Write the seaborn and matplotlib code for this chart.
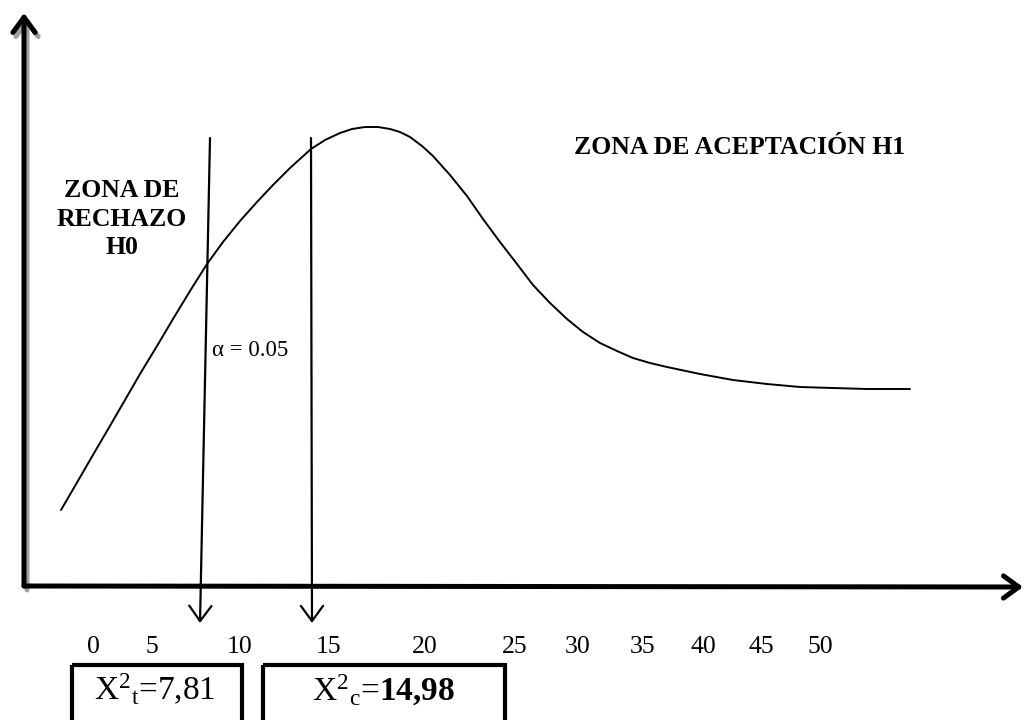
import matplotlib
matplotlib.use("Agg")
import matplotlib.pyplot as plt
import seaborn as sns
from matplotlib.patches import Rectangle, ArrowStyle

# curva dibujada (coordenadas del lienzo)
curva_x = [61, 75, 90, 107, 125, 140, 157, 173, 190, 207, 223, 240, 257, 273,
           290, 311, 325, 340, 352, 365, 378, 390, 400, 410, 422, 433, 450,
           467, 483, 500, 517, 533, 550, 567, 583, 600, 617, 633, 650, 667,
           700, 733, 767, 800, 833, 867, 910]
curva_y = [510, 486, 460, 431, 400, 374, 346, 319, 291, 264, 242, 221, 202, 185,
           168, 149, 140, 133, 129, 127, 127, 129, 132, 137, 146, 156, 175,
           196, 219, 242, 264, 285, 303, 319, 332, 343, 351, 358, 363, 367,
           374, 380, 384, 387, 388, 389, 389]

# etiquetas del eje x
ticks_lbl = ["0", "5", "10", "15", "20", "25", "30", "35", "40", "45", "50"]
ticks_pos = [93, 152, 240, 328, 425, 515, 578, 643, 703, 761, 820]

# valores criticos
chi_tabla = "7,81"
chi_calc = "14{,}98"
alfa = "0.05"

sns.set_theme(style="white")
plt.rcParams["font.family"] = ["Liberation Serif", "DejaVu Serif"]
plt.rcParams["text.color"] = "black"
plt.rcParams["mathtext.fontset"] = "custom"
plt.rcParams["mathtext.rm"] = "Liberation Serif"
plt.rcParams["mathtext.it"] = "Liberation Serif:italic"
plt.rcParams["mathtext.bf"] = "Liberation Serif:bold"

fig = plt.figure(figsize=(10.24, 7.2), dpi=100)
ax = fig.add_axes([0, 0, 1, 1])
ax.set_xlim(0, 1024)
ax.set_ylim(720, 0)
ax.axis("off")


def flecha(x0, y0, x1, y1, lw, color="black"):
    estilo = ArrowStyle("->", head_length=0.55, head_width=0.4)
    ax.annotate("", xy=(x1, y1), xytext=(x0, y0),
                arrowprops=dict(arrowstyle=estilo, lw=lw, color=color,
                                mutation_scale=20, shrinkA=0, shrinkB=0))


# ejes con sombra gris
flecha(27, 590, 1026, 591, 3.6, "#a0a0a0")
flecha(27, 590, 27, 17, 3.6, "#a0a0a0")
flecha(24, 586, 1023, 587, 3.6)
flecha(24, 586, 24, 13, 3.6)

# curva
sns.lineplot(x=curva_x, y=curva_y, sort=False, color="black", lw=1.4, ax=ax)

# lineas de valores criticos
flecha(210, 138, 200, 623, 1.6)
flecha(311, 138, 312, 623, 1.6)

for p, t in zip(ticks_pos, ticks_lbl):
    ax.text(p, 647, t, ha="center", va="center", fontsize=18.5, color="black")

ax.text(122, 219, "ZONA DE\nRECHAZO\nH0", ha="center", va="center",
        fontsize=18.5, fontweight="bold", linespacing=1.3, color="black")
ax.text(740, 147, "ZONA DE ACEPTACIÓN H1", ha="center", va="center",
        fontsize=18.5, fontweight="bold", color="black")
ax.text(212, 350, "α = " + alfa, ha="left", va="center", fontsize=16.5,
        color="black")

# cajas inferiores
ax.add_patch(Rectangle((72, 665), 170, 70, fill=False, lw=3, ec="black"))
ax.add_patch(Rectangle((263, 665), 242, 70, fill=False, lw=3, ec="black"))
ax.text(155, 690, r"$\mathrm{X}^{2}{}_{\mathrm{t}}\text{=" + chi_tabla + "}$",
        ha="center", va="center", fontsize=24, color="black")
ax.text(384, 690, r"$\mathrm{X}^{2}{}_{\mathrm{c}}\text{=}\mathbf{" + chi_calc + "}$",
        ha="center", va="center", fontsize=24, color="black")

fig.savefig("out.png", dpi=100, facecolor="white")
